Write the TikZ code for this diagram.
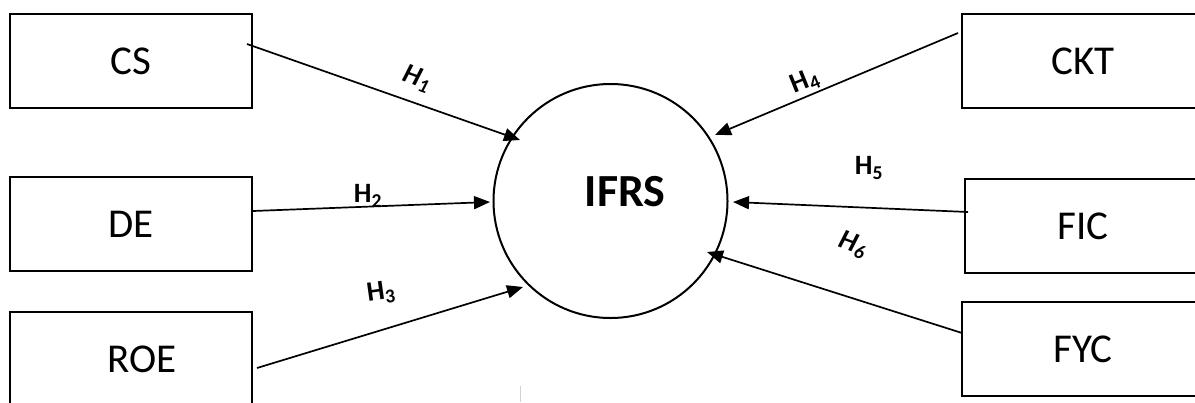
\documentclass[tikz,border=0pt]{standalone}
\usepackage{fontspec}
\setmainfont{Carlito}
\usetikzlibrary{arrows.meta}
\begin{document}
\begin{tikzpicture}[x=1pt,y=-1pt,
  box/.style={draw=black,line width=2.6pt,rectangle,minimum width=242pt,minimum height=94pt,inner sep=0pt,font=\fontsize{41}{48}\selectfont},
  hub/.style={draw=black,line width=2pt,circle,minimum size=234pt,inner sep=0pt},
  arr/.style={line width=1.7pt,-{Triangle[length=16pt,width=13pt]}},
  hlab/.style={font=\fontsize{28}{32}\selectfont\bfseries,inner sep=0pt}]
\useasboundingbox (0,0) rectangle (1195,402);
% boxes
\node[box] (cs) at (131,61) {CS};
\node[box] (de) at (131,224) {DE};
\node[box] (roe) at (131,359) {\hspace*{22pt}ROE};
\node[box] (ckt) at (1083,61) {CKT};
\node[box] (fic) at (1086,226) {\hspace*{-6pt}FIC};
\node[box] (fyc) at (1083,349) {\raisebox{-6pt}{FYC}};
% central circle
\node[hub] (ifrs) at (610.5,201) {};
\node[font=\fontsize{46}{54}\selectfont\bfseries,inner sep=0pt] (ifrst) at (625,192) {IFRS};
% connector endpoints
\coordinate (s1) at (247,44);  \coordinate (t1) at (520,140);
\coordinate (s2) at (253,211); \coordinate (t2) at (490,202);
\coordinate (s3) at (257,368); \coordinate (t3) at (523,287);
\coordinate (s4) at (958,33);  \coordinate (t4) at (715,135);
\coordinate (s5) at (968,212); \coordinate (t5) at (733,202);
\coordinate (s6) at (962,333); \coordinate (t6) at (707,252);
\draw[arr] (s1) -- (t1);
\draw[arr] (s2) -- (t2);
\draw[arr] (s3) -- (t3);
\draw[arr] (s4) -- (t4);
\draw[arr] (s5) -- (t5);
\draw[arr] (s6) -- (t6);
% labels
\node[hlab,rotate=-20] (h1) at (417,79) {\itshape H\textsubscript{1}};
\node[hlab] (h2) at (368,196) {H\textsubscript{2}};
\node[hlab,rotate=8] (h3) at (381,293) {H\textsubscript{3}};
\node[hlab,rotate=22] (h4) at (805,82) {H\textsubscript{4}};
\node[hlab] (h5) at (869,168) {H\textsubscript{5}};
\node[hlab,rotate=-20] (h6) at (853,245) {\itshape H\textsubscript{6}};
% faint scan artifact
\coordinate (g1) at (520,386); \coordinate (g2) at (520,402);
\draw[gray!35,line width=0.8pt] (g1) -- (g2);
\end{tikzpicture}
\end{document}
